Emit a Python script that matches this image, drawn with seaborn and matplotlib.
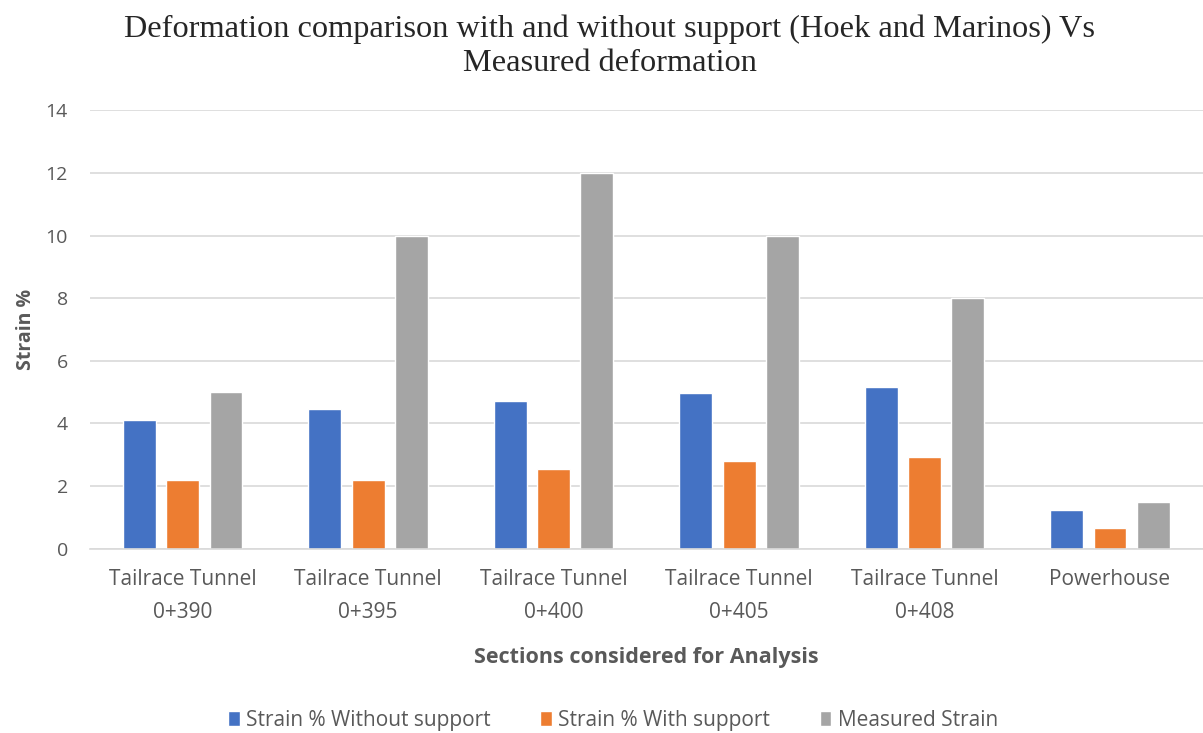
import matplotlib
matplotlib.use("Agg")
import matplotlib.pyplot as plt
import seaborn as sns
import pandas as pd

sections = ["Tailrace Tunnel\n0+390", "Tailrace Tunnel\n0+395", "Tailrace Tunnel\n0+400",
            "Tailrace Tunnel\n0+405", "Tailrace Tunnel\n0+408", "Powerhouse"]
without_support = [4.1, 4.45, 4.72, 4.98, 5.17, 1.23]
with_support = [2.2, 2.2, 2.53, 2.8, 2.91, 0.66]
measured = [5, 10, 12, 10, 8, 1.5]
series_names = ["Strain % Without support", "Strain % With support", "Measured Strain"]
colors = ["#4472C4", "#ED7D31", "#A5A5A5"]

rows = []
for name, vals in zip(series_names, [without_support, with_support, measured]):
    for sec, v in zip(sections, vals):
        rows.append({"Section": sec, "Series": name, "Strain": v})
df = pd.DataFrame(rows)

sns.set_theme(style="white")
plt.rcParams["font.family"] = ["Open Sans", "DejaVu Sans"]

fig = plt.figure(figsize=(12.03, 7.33), dpi=100)
ax = fig.add_axes([0.0748, 0.2517, 0.925, 0.5976])

sns.barplot(data=df, x="Section", y="Strain", hue="Series", palette=colors,
            width=0.7, gap=0.24, ax=ax, legend=True, saturation=1)

ax.set_ylim(0, 14)
ax.set_yticks(range(0, 15, 2))
ax.set_xlim(-0.5, 5.5)
ax.yaxis.grid(True, color="#d9d9d9", linewidth=1.2)
ax.set_axisbelow(True)
for s in ["top", "right", "left"]:
    ax.spines[s].set_visible(False)
ax.spines["bottom"].set_color("#d9d9d9")
ax.spines["bottom"].set_linewidth(1.2)
ax.tick_params(axis="x", length=0, colors="#595959", labelsize=15, pad=15)
ax.tick_params(axis="y", length=0, colors="#595959", labelsize=14, pad=16)
for lbl in ax.get_xticklabels():
    lbl.set_linespacing(1.75)

ax.set_xlabel("Sections considered for Analysis", fontsize=15.5, fontweight="bold",
              color="#595959", labelpad=17)
ax.set_ylabel("Strain %", fontsize=14, fontweight="bold", color="#595959", labelpad=7)

fig.suptitle("Deformation comparison with and without support (Hoek and Marinos) Vs\nMeasured deformation",
             fontsize=23.3, family="Liberation Serif", x=0.507, y=0.98, linespacing=1.2)

leg = ax.legend(loc="center", bbox_to_anchor=(0.47, -0.392), ncol=3, frameon=False,
                fontsize=15, handlelength=0.55, handleheight=0.7, handletextpad=0.3,
                columnspacing=2.4)
for t in leg.get_texts():
    t.set_color("#595959")

fig.savefig("out.png", dpi=100)
